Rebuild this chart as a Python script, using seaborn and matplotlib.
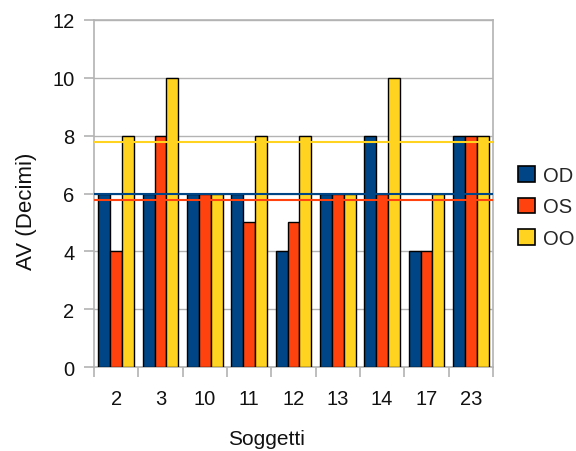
import matplotlib
matplotlib.use("Agg")
import matplotlib.pyplot as plt
import seaborn as sns
import pandas as pd
from matplotlib.patches import Patch

subjects = ["2", "3", "10", "11", "12", "13", "14", "17", "23"]
od = [6, 6, 6, 6, 4, 6, 8, 4, 8]
os_ = [4, 8, 6, 5, 5, 6, 6, 4, 8]
oo = [8, 10, 6, 8, 8, 6, 10, 6, 8]
series = ["OD", "OS", "OO"]
mean_lines = [6.0, 5.78, 7.78]
colors = ["#004586", "#ff420e", "#ffd320"]

sns.set_theme(style="white")
plt.rcParams["font.family"] = ["Liberation Sans", "DejaVu Sans"]

rows = []
for s, vals in zip(series, [od, os_, oo]):
    for subj, v in zip(subjects, vals):
        rows.append({"Soggetti": subj, "AV": v, "Serie": s})
df = pd.DataFrame(rows)

fig = plt.figure(figsize=(5.76, 4.52), dpi=100)
ax = fig.add_axes([94/576, 1 - 368/452, (493-94)/576, (368-21)/452])

sns.barplot(data=df, x="Soggetti", y="AV", hue="Serie", order=subjects,
            hue_order=series, palette=colors, width=0.8, edgecolor="black",
            linewidth=1.0, saturation=1, ax=ax, legend=False, zorder=3)

for m, c in zip(mean_lines, colors):
    ax.axhline(m, color=c, linewidth=1.5, zorder=4)

ax.set_ylim(0, 12)
ax.set_xlim(-0.5, len(subjects) - 0.5)
ax.set_yticks(range(0, 13, 2))
ax.yaxis.grid(True, color="#b3b3b3", linewidth=1)
ax.set_axisbelow(True)
for sp in ax.spines.values():
    sp.set_color("#b3b3b3")
    sp.set_linewidth(1.2)
    sp.set_visible(True)

ax.set_xticks(range(len(subjects)))
ax.set_xticklabels(subjects)
ax.set_xticks([i - 0.5 for i in range(len(subjects) + 1)], minor=True)
ax.tick_params(axis="x", which="major", length=0, labelsize=14.5, pad=16, labelcolor="#111111")
ax.tick_params(axis="x", which="minor", length=7, color="#b3b3b3", width=1.2, direction="out", bottom=True)
ax.tick_params(axis="y", which="major", length=7.5, color="#b3b3b3", width=1.2, left=True,
               labelsize=14.5, pad=6.5, labelcolor="#111111")

ax.set_xlabel("Soggetti", fontsize=15, color="#111111")
ax.set_ylabel("AV (Decimi)", fontsize=16, color="#111111")
ax.xaxis.set_label_coords((266.5 - 94) / 399, -(430 - 368) / 347)
ax.yaxis.set_label_coords(-(94 - 37) / 399, (368 - 211) / 347)

handles = [Patch(facecolor=c, edgecolor="black", linewidth=1.2) for c in colors]
fig.legend(handles, series, loc="center left", bbox_to_anchor=(510/576, 1 - 208/452),
           frameon=False, fontsize=14.5, handlelength=0.83, handleheight=0.83,
           handletextpad=0.4, labelspacing=0.62, borderaxespad=0)

fig.savefig("out.png", dpi=100)
